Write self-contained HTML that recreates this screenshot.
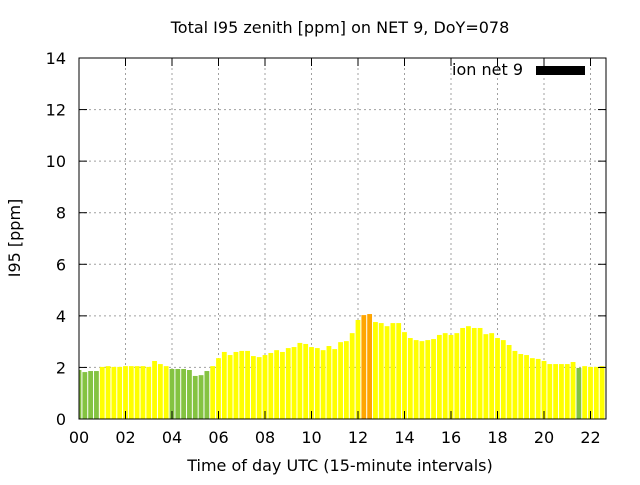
<!DOCTYPE html>
<html><head><meta charset="utf-8"><style>
body{margin:0;background:#fff}
svg text{font-family:"DejaVu Sans","Liberation Sans",sans-serif;font-size:16px;fill:#000}
</style></head><body>
<svg id="c" width="640" height="480">
<defs><clipPath id="pc"><rect x="79" y="58" width="527" height="361"/></clipPath></defs>
<text x="340" y="33" text-anchor="middle">Total I95 zenith [ppm] on NET 9, DoY=078</text>
<text x="340" y="471" text-anchor="middle">Time of day UTC (15-minute intervals)</text>
<text transform="translate(20,238) rotate(-90)" text-anchor="middle">I95 [ppm]</text>
<g id="grid"></g>
<g id="bars" clip-path="url(#pc)"></g>
<g id="axes"></g>
<g>
<text x="523" y="75" text-anchor="end">ion net 9</text>
<rect x="536" y="66" width="49" height="9" fill="#000"/>
</g>
</svg>
<script>
const values=[1.90,1.82,1.86,1.86,2.02,2.05,2.02,2.02,2.05,2.05,2.05,2.05,2.02,2.25,2.13,2.05,1.94,1.94,1.94,1.90,1.67,1.70,1.86,2.05,2.36,2.60,2.48,2.60,2.64,2.64,2.44,2.40,2.48,2.56,2.67,2.60,2.75,2.79,2.95,2.91,2.79,2.75,2.67,2.83,2.71,2.98,3.02,3.33,3.84,4.03,4.07,3.76,3.72,3.60,3.72,3.72,3.37,3.14,3.06,3.02,3.06,3.10,3.26,3.33,3.26,3.33,3.53,3.60,3.53,3.53,3.29,3.33,3.14,3.06,2.87,2.64,2.52,2.48,2.36,2.33,2.25,2.13,2.13,2.13,2.13,2.21,1.98,2.05,2.02,2.02,2.05,2.02];
const yTicks=[0,2,4,6,8,10,12,14];
const xTicks=["00","02","04","06","08","10","12","14","16","18","20","22"];
const L=79,R=606,T=58,B=419,NS="http://www.w3.org/2000/svg";
function X(h){return L+h*23.25;}
function Y(v){return B-(B-T)*v/14;}
function mk(t,a,p){const e=document.createElementNS(NS,t);for(const k in a)e.setAttribute(k,a[k]);p.appendChild(e);return e;}
const g=document.getElementById('grid'),bg=document.getElementById('bars'),ax=document.getElementById('axes');
yTicks.forEach(v=>{
 if(v>0&&v<14){const l=mk('line',{x1:L,x2:R,y1:Y(v),y2:Y(v),stroke:'#a0a0a0','stroke-dasharray':'2,3'},g);
 }
 const t=mk('text',{x:L-13,y:Y(v)+6,'text-anchor':'end'},ax);t.textContent=v;
 
 mk('line',{x1:L,x2:L+8,y1:Y(v),y2:Y(v),stroke:'#000'},ax);
 mk('line',{x1:R,x2:R-8,y1:Y(v),y2:Y(v),stroke:'#000'},ax);
});
xTicks.forEach((s,i)=>{
 const x=X(i*2);
 if(i>0){const l=mk('line',{x1:x,x2:x,y1:T,y2:B,stroke:'#a0a0a0','stroke-dasharray':'2,3'},g);
 }
 const t=mk('text',{x:x,y:443,'text-anchor':'middle'},ax);t.textContent=s;
 
 mk('line',{x1:x,x2:x,y1:B,y2:B-8,stroke:'#000'},ax);
 mk('line',{x1:x,x2:x,y1:T,y2:T+8,stroke:'#000'},ax);
});
values.forEach((v,i)=>{
 const c=X(i*0.25),col=v<2?'#84c341':(v>4?'#ffa500':'#ffff00');
 const r=mk('rect',{x:c-2.4,y:Y(v),width:4.8,height:B-Y(v),fill:col},bg);
 
});
const bd=mk('rect',{x:L,y:T,width:R-L,height:B-T,fill:'none',stroke:'#000','stroke-width':1},ax);

</script>
</body></html>
